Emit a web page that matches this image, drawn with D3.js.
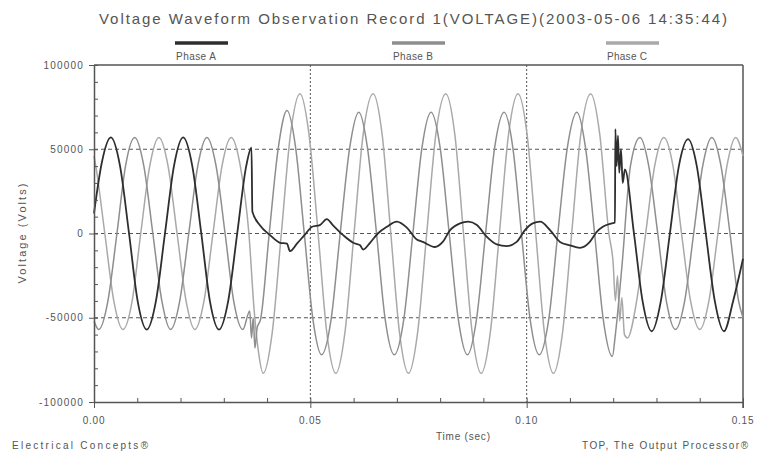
<!DOCTYPE html>
<html>
<head>
<meta charset="utf-8">
<script src="https://cdn.jsdelivr.net/npm/d3@7"></script>
<style>
  body { margin: 0; background: #fff; }
  svg { display: block; font-family: "Liberation Sans", Arial, sans-serif; }
</style>
</head>
<body>
<svg id="chart" width="774" height="453"></svg>
<script>
// values: [time (sec), voltage (V)]
var phaseA = [
  [0.0000, 12000], [0.0018, 42000], [0.0039, 57000], [0.0060, 40300], [0.0081, 0], [0.0101, -40300],
  [0.0122, -57000], [0.0143, -40300], [0.0164, 0], [0.0185, 40300], [0.0206, 57000], [0.0227, 40300],
  [0.0248, 0], [0.0268, -40300], [0.0289, -57000], [0.0310, -40300], [0.0331, 0], [0.0352, 40300],
  [0.0364, 51000], [0.0366, 13000], [0.0383, 5000], [0.0407, -1000], [0.0430, -5500], [0.0446, -6000],
  [0.0453, -10500], [0.0469, -6000], [0.0488, -500], [0.0504, 4000], [0.0522, 5000], [0.0538, 8500],
  [0.0552, 5000], [0.0576, -1000], [0.0599, -5500], [0.0615, -7000], [0.0622, -9500], [0.0638, -5500],
  [0.0656, 0], [0.0677, 4000], [0.0700, 7000], [0.0723, 3500], [0.0746, -3500], [0.0760, -5000],
  [0.0788, -8000], [0.0806, -5000], [0.0823, 2000], [0.0846, 6000], [0.0865, 7000], [0.0885, 5000],
  [0.0908, -2000], [0.0931, -6500], [0.0954, -7500], [0.0977, -5000], [0.0996, 2000], [0.1014, 6000],
  [0.1031, 7000], [0.1054, 2000], [0.1077, -5000], [0.1100, -7000], [0.1123, -8500], [0.1146, -5000],
  [0.1162, 1000], [0.1176, 4000], [0.1197, 6000], [0.1204, 6500], [0.1205, 62000], [0.1208, 40000],
  [0.1211, 58000], [0.1214, 36000], [0.1218, 50000], [0.1222, 30000], [0.1227, 38000], [0.1248, 0],
  [0.1268, -40300], [0.1289, -58000], [0.1310, -40300], [0.1331, 0], [0.1352, 40300], [0.1373, 56000],
  [0.1393, 40300], [0.1414, 0], [0.1435, -40300], [0.1456, -58000], [0.1477, -40300], [0.1500, -15000]
];

var phaseB = [
  [0.0000, -52000], [0.0011, -57000], [0.0032, -40300], [0.0053, 0], [0.0073, 40300], [0.0094, 57000],
  [0.0115, 40300], [0.0136, 0], [0.0157, -40300], [0.0177, -57000], [0.0198, -40300], [0.0219, 0],
  [0.0240, 40300], [0.0261, 57000], [0.0282, 40300], [0.0303, 0], [0.0323, -40300], [0.0344, -57000],
  [0.0360, -46000], [0.0364, -62000], [0.0368, -50000], [0.0372, -68000], [0.0377, -56000], [0.0385, -51000],
  [0.0405, 0], [0.0426, 51000], [0.0446, 73000], [0.0466, 51000], [0.0486, 0], [0.0506, -51000],
  [0.0526, -72000], [0.0548, -51000], [0.0569, 0], [0.0591, 51000], [0.0612, 72000], [0.0632, 51000],
  [0.0653, 0], [0.0673, -51000], [0.0694, -72000], [0.0716, -51000], [0.0737, 0], [0.0758, 51000],
  [0.0779, 72000], [0.0800, 51000], [0.0821, 0], [0.0842, -51000], [0.0863, -72000], [0.0884, -51000],
  [0.0905, 0], [0.0926, 51000], [0.0948, 72000], [0.0968, 51000], [0.0988, 0], [0.1008, -51000],
  [0.1029, -72000], [0.1051, -51000], [0.1072, 0], [0.1094, 51000], [0.1116, 72000], [0.1136, 51000],
  [0.1157, 0], [0.1177, -51000], [0.1198, -73000], [0.1205, -60000], [0.1220, -20000], [0.1240, 40300],
  [0.1262, 57000], [0.1282, 40300], [0.1303, 0], [0.1323, -40300], [0.1344, -57000], [0.1365, -40300],
  [0.1386, 0], [0.1407, 40300], [0.1428, 57000], [0.1449, 40300], [0.1470, 0], [0.1490, -40300],
  [0.1500, -50000]
];

var phaseC = [
  [0.0000, 46000], [0.0004, 40300], [0.0025, 0], [0.0046, -40300], [0.0067, -57000], [0.0088, -40300],
  [0.0108, 0], [0.0129, 40300], [0.0150, 57000], [0.0171, 40300], [0.0192, 0], [0.0213, -40300],
  [0.0233, -57000], [0.0254, -40300], [0.0275, 0], [0.0296, 40300], [0.0317, 57000], [0.0338, 40300],
  [0.0358, 0], [0.0370, -45000], [0.0380, -70000], [0.0391, -83000], [0.0412, -58700], [0.0433, 0],
  [0.0454, 58700], [0.0476, 83000], [0.0497, 58700], [0.0518, 0], [0.0538, -58700], [0.0559, -83000],
  [0.0580, -58700], [0.0601, 0], [0.0622, 58700], [0.0645, 83000], [0.0666, 58700], [0.0686, 0],
  [0.0706, -58700], [0.0727, -83000], [0.0748, -58700], [0.0769, 0], [0.0790, 58700], [0.0813, 83000],
  [0.0834, 58700], [0.0854, 0], [0.0874, -58700], [0.0895, -83000], [0.0916, -58700], [0.0937, 0],
  [0.0958, 58700], [0.0980, 83000], [0.1001, 58700], [0.1021, 0], [0.1041, -58700], [0.1062, -83000],
  [0.1083, -58700], [0.1104, 0], [0.1125, 58700], [0.1148, 83000], [0.1169, 58700], [0.1190, 0],
  [0.1200, -18000], [0.1205, -40000], [0.1210, -25000], [0.1215, -52000], [0.1220, -38000], [0.1226, -60000],
  [0.1233, -62000], [0.1254, -40300], [0.1275, 0], [0.1296, 40300], [0.1317, 57000], [0.1338, 40300],
  [0.1358, 0], [0.1379, -40300], [0.1400, -57000], [0.1421, -40300], [0.1442, 0], [0.1463, 40300],
  [0.1483, 57000], [0.1500, 46000]
];

var seriesNames = ["Phase A", "Phase B", "Phase C"];
var xTicks = [0, 0.05, 0.10, 0.15];
var xTickLabels = ["0.00", "0.05", "0.10", "0.15"];
var yTicks = [-100000, -50000, 0, 50000, 100000];
var yTickLabels = ["-100000", "-50000", "0", "50000", "100000"];

var svg = d3.select("#chart");
var x = d3.scaleLinear().domain([0, 0.15]).range([94, 743]);
var y = d3.scaleLinear().domain([-100000, 100000]).range([402, 65]);
var colors = ["#2e2e2e", "#8e8e8e", "#a9a9a9"];
var widths = [1.8, 1.5, 1.5];
var ink = "#555";

// title
svg.append("text")
  .attr("x", 99).attr("y", 24)
  .attr("font-size", 15)
  .attr("fill", ink)
  .attr("textLength", 628)
  .attr("lengthAdjust", "spacing")
  .text("Voltage Waveform Observation Record 1(VOLTAGE)(2003-05-06 14:35:44)");

// legend
var legendX = [175, 392, 606];
seriesNames.forEach(function (name, i) {
  svg.append("line")
    .attr("x1", legendX[i]).attr("x2", legendX[i] + 53)
    .attr("y1", 43).attr("y2", 43)
    .attr("stroke", colors[i]).attr("stroke-width", 3.5);
  svg.append("text")
    .attr("x", legendX[i] + 1).attr("y", 60)
    .attr("font-size", 10)
    .attr("fill", ink)
    .attr("textLength", 40)
    .attr("lengthAdjust", "spacing")
    .text(name);
});

// grid
var grid = svg.append("g");
[-50000, 0, 50000].forEach(function (v) {
  grid.append("line")
    .attr("x1", x(0)).attr("x2", x(0.15))
    .attr("y1", y(v)).attr("y2", y(v))
    .attr("stroke", ink).attr("stroke-width", 1)
    .attr("stroke-dasharray", "4,3");
});
[0.05, 0.10].forEach(function (t) {
  grid.append("line")
    .attr("x1", x(t)).attr("x2", x(t))
    .attr("y1", y(100000)).attr("y2", y(-100000))
    .attr("stroke", ink).attr("stroke-width", 1)
    .attr("stroke-dasharray", "2,2");
});

// frame (top and right)
svg.append("line").attr("x1", x(0)).attr("x2", x(0.15)).attr("y1", y(100000)).attr("y2", y(100000))
  .attr("stroke", ink).attr("stroke-width", 1.5);
svg.append("line").attr("x1", x(0.15)).attr("x2", x(0.15)).attr("y1", y(100000)).attr("y2", y(-100000) + 6)
  .attr("stroke", ink).attr("stroke-width", 1.5);

// waveforms
var line = d3.line()
  .x(function (d) { return x(d[0]); })
  .y(function (d) { return y(d[1]); })
  .curve(d3.curveMonotoneX);

[phaseC, phaseB, phaseA].forEach(function (data, k) {
  var i = 2 - k;
  svg.append("path")
    .datum(data)
    .attr("d", line)
    .attr("fill", "none")
    .attr("stroke", colors[i])
    .attr("stroke-width", widths[i])
    .attr("stroke-linejoin", "round");
});

// axes
var yAxis = d3.axisLeft(y)
  .tickValues(d3.range(-100000, 100001, 10000))
  .tickSize(0)
  .tickFormat("");
var gy = svg.append("g").attr("transform", "translate(" + x(0) + ",0)").call(yAxis);
gy.selectAll(".tick line").attr("x2", 4).attr("stroke", ink);
gy.selectAll(".tick").filter(function (d) { return yTicks.indexOf(d) >= 0; })
  .select("line").attr("x1", -5).attr("x2", 4);
gy.select(".domain").attr("stroke", ink).attr("stroke-width", 1.5);
yTicks.forEach(function (v, i) {
  svg.append("text")
    .attr("x", x(0) - 10).attr("y", y(v) + 3.5)
    .attr("text-anchor", "end")
    .attr("font-size", 10)
    .attr("letter-spacing", 1.2)
    .attr("fill", ink)
    .text(yTickLabels[i]);
});

var xAxis = d3.axisBottom(x)
  .tickValues(d3.range(0, 0.1501, 0.01))
  .tickSize(0)
  .tickFormat("");
var gx = svg.append("g").attr("transform", "translate(0," + y(-100000) + ")").call(xAxis);
gx.selectAll(".tick line").attr("y2", -4).attr("stroke", ink);
gx.selectAll(".tick").filter(function (d, i) { return i % 5 === 0; })
  .select("line").attr("y1", 6).attr("y2", -4);
gx.select(".domain").attr("stroke", ink).attr("stroke-width", 1.5);
xTicks.forEach(function (t, i) {
  svg.append("text")
    .attr("x", x(t)).attr("y", 424)
    .attr("text-anchor", "middle")
    .attr("font-size", 10)
    .attr("letter-spacing", 0.8)
    .attr("fill", ink)
    .text(xTickLabels[i]);
});

// axis titles
svg.append("text")
  .attr("x", 436).attr("y", 440)
  .attr("font-size", 10)
  .attr("fill", ink)
  .attr("textLength", 54)
  .attr("lengthAdjust", "spacing")
  .text("Time (sec)");
svg.append("text")
  .attr("transform", "translate(26," + (y(0) + 50) + ") rotate(-90)")
  .attr("font-size", 11)
  .attr("fill", ink)
  .attr("textLength", 100)
  .attr("lengthAdjust", "spacing")
  .text("Voltage (Volts)");

// footer
svg.append("text")
  .attr("x", 12).attr("y", 449)
  .attr("font-size", 10)
  .attr("fill", ink)
  .attr("textLength", 136)
  .attr("lengthAdjust", "spacing")
  .text("Electrical Concepts®");
svg.append("text")
  .attr("x", 582).attr("y", 449)
  .attr("font-size", 10)
  .attr("fill", ink)
  .attr("textLength", 166)
  .attr("lengthAdjust", "spacing")
  .text("TOP, The Output Processor®");
</script>
</body>
</html>
